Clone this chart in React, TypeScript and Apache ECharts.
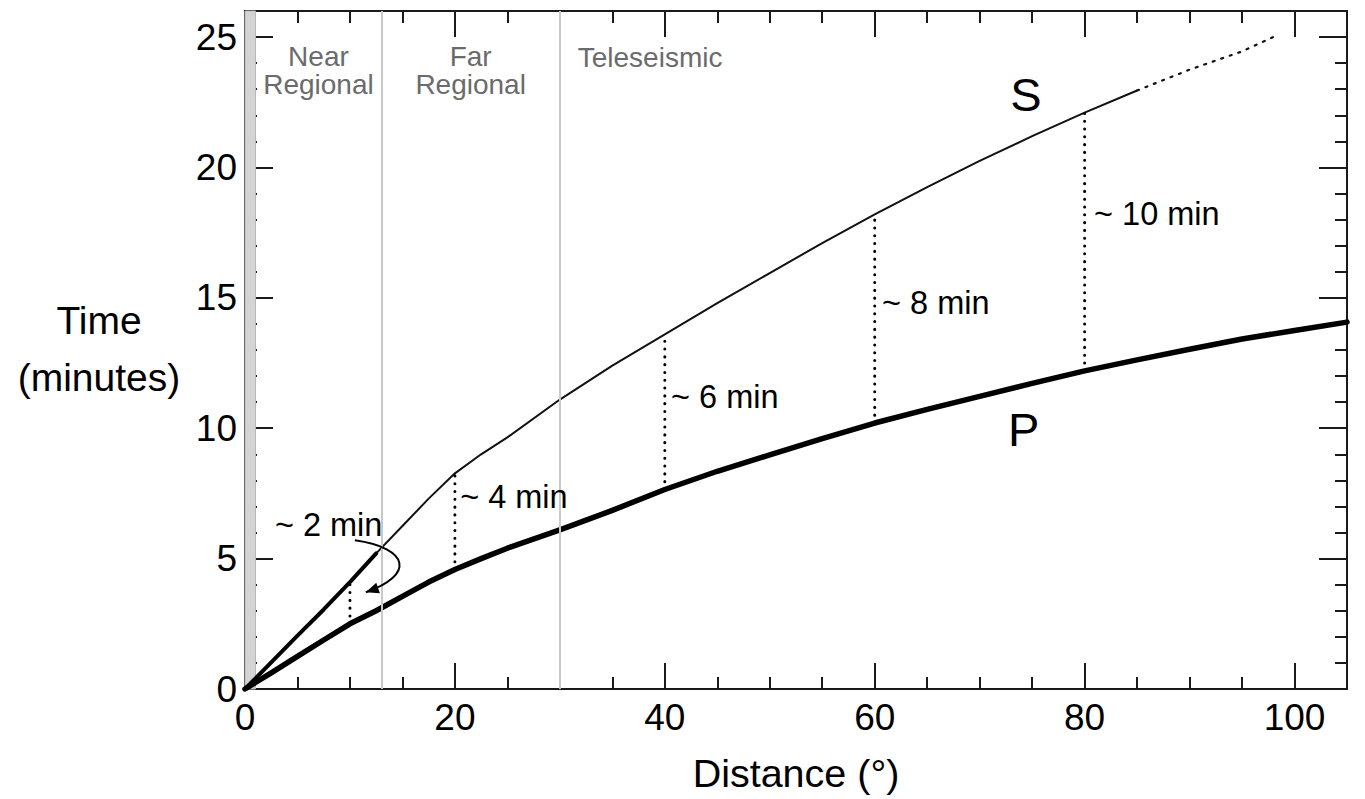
import React, { useEffect, useRef } from 'react';
import * as echarts from 'echarts';

// ---- Data ----
const xMax = 105;
const yMax = 26;

// P-wave travel time (minutes) vs distance (degrees)
const pDist = [0, 1, 2.5, 5, 7.5, 10, 12.5, 15, 17.5, 20, 22.5, 25, 30, 35, 40, 45, 50, 55, 60, 65, 70, 75, 80, 85, 90, 95, 100, 105];
const pTime = [0, 0.25, 0.62, 1.25, 1.88, 2.5, 3.0, 3.55, 4.1, 4.58, 5.0, 5.4, 6.1, 6.85, 7.65, 8.35, 8.98, 9.6, 10.2, 10.72, 11.22, 11.72, 12.2, 12.62, 13.03, 13.42, 13.75, 14.07];

// S-wave travel time (minutes) vs distance (degrees)
const sDist = [0, 2.5, 5, 7.5, 10, 12.5, 15, 17.5, 20, 22.5, 25, 30, 35, 40, 45, 50, 55, 60, 65, 70, 75, 80, 85, 90, 95, 98.5];
const sTime = [0, 1.02, 2.05, 3.05, 4.1, 5.2, 6.25, 7.3, 8.27, 9.0, 9.65, 11.1, 12.4, 13.6, 14.8, 15.95, 17.1, 18.2, 19.25, 20.25, 21.2, 22.1, 22.95, 23.75, 24.45, 25.1];
const sDenseUntil = 85; // beyond this the S picks become sparse
const sThickUntil = 12.5; // near source both branches are dense

// S-P gaps
const gapDist = [10, 20, 40, 60, 80];
const gapLabels = ['~ 2 min', '~ 4 min', '~ 6 min', '~ 8 min', '~ 10 min'];
const gapLabelX = [2.85, 20.5, 40.6, 60.7, 80.9];
const gapLabelY = [6.3, 7.35, 11.2, 14.8, 18.2];

// Distance regions
const bandRange = [0, 1];
const regionEdges = [13, 30];
const regionLabels = ['Near\nRegional', 'Far\nRegional', 'Teleseismic'];
const regionLabelX = [7, 21.5, 38.6];
const regionLabelY = [23.7, 23.7, 24.23];

// Phase labels
const phaseLabels = ['S', 'P'];
const phaseLabelX = [74.4, 74.2];
const phaseLabelY = [22.8, 9.95];

// Curved arrow for the "~ 2 min" label (start, control 1, control 2, end), in data units
const arrowX = [10.47, 15.7, 16.18, 11.51];
const arrowY = [5.7, 5.4, 4.36, 3.71];

const FONT = '"Liberation Sans", Arial, Helvetica, sans-serif';

export default function App() {
  const ref = useRef<HTMLDivElement>(null);

  useEffect(() => {
    const chart = echarts.init(ref.current as HTMLDivElement, undefined, { renderer: 'svg' });

    const pData = pDist.map((d, i) => [d, pTime[i]]);
    const sData = sDist.map((d, i) => [d, sTime[i]]);
    const sDense = sData.filter((p) => p[0] <= sDenseUntil);
    const sTail = sData.filter((p) => p[0] >= sDenseUntil);
    const sNear = sData.filter((p) => p[0] <= sThickUntil);
    const pAt = (d: number) => pTime[pDist.indexOf(d)];
    const sAt = (d: number) => sTime[sDist.indexOf(d)];

    const tickStyle = { color: '#1a1a1a', width: 2 };
    const mkX = (position: string, interval: number, len: number, extra: any = {}) => ({
      type: 'value',
      min: 0,
      max: xMax,
      interval,
      position,
      axisLine: { show: false, onZero: false },
      splitLine: { show: false },
      axisTick: { show: true, inside: true, length: len, lineStyle: tickStyle },
      axisLabel: { show: false },
      ...extra,
    });
    const mkY = (position: string, interval: number, len: number, extra: any = {}) => ({
      type: 'value',
      min: 0,
      max: yMax,
      interval,
      position,
      axisLine: { show: false, onZero: false },
      splitLine: { show: false },
      axisTick: { show: true, inside: true, length: len, lineStyle: tickStyle },
      axisLabel: { show: false },
      ...extra,
    });

    const gapSeries = gapDist.map((d) => ({
      type: 'line',
      z: 4,
      silent: true,
      symbol: 'none',
      data: [
        [d, pAt(d)],
        [d, sAt(d)],
      ],
      lineStyle: { color: '#000', width: 3, type: [0.1, 7.7], cap: 'round' },
    }));

    chart.setOption({
      animation: false,
      backgroundColor: '#fff',
      grid: {
        left: 245,
        right: 18,
        top: 11,
        bottom: 110,
        show: true,
        borderColor: '#1a1a1a',
        borderWidth: 2,
        backgroundColor: 'transparent',
        containLabel: false,
      },
      xAxis: [
        mkX('bottom', 5, 12, {
          axisLabel: {
            show: true,
            margin: 10,
            fontSize: 37,
            color: '#000',
            fontFamily: FONT,
            showMaxLabel: false,
            formatter: (v: number) => (v % 20 === 0 && v <= 100 ? String(v) : ''),
          },
          name: 'Distance (°)',
          nameLocation: 'middle',
          nameGap: 64,
          nameTextStyle: { fontSize: 39.5, color: '#000', fontFamily: FONT },
        }),
        mkX('bottom', 20, 26),
        mkX('top', 5, 12),
        mkX('top', 20, 26),
      ],
      yAxis: [
        mkY('left', 1, 12, {
          axisLabel: {
            show: true,
            margin: 8,
            fontSize: 37,
            color: '#000',
            fontFamily: FONT,
            showMaxLabel: false,
            formatter: (v: number) => (v % 5 === 0 && v <= 25 ? String(v) : ''),
          },
        }),
        mkY('left', 5, 28),
        mkY('right', 1, 12),
        mkY('right', 5, 28),
      ],
      series: [
        {
          type: 'line',
          z: 1,
          silent: true,
          symbol: 'none',
          data: [],
          markArea: {
            silent: true,
            itemStyle: { color: '#d4d4d4', borderColor: '#b8b8b8', borderWidth: 1 },
            data: [[{ xAxis: bandRange[0] }, { xAxis: bandRange[1] }]],
          },
          markLine: {
            silent: true,
            symbol: ['none', 'none'],
            label: { show: false },
            lineStyle: { color: '#c9c9c9', width: 2, type: 'solid' },
            data: regionEdges.map((x) => ({ xAxis: x })),
          },
        },
        {
          name: 'P',
          type: 'line',
          z: 3,
          symbol: 'none',
          data: pData,
          lineStyle: { color: '#000', width: 5.5, cap: 'round', join: 'round' },
        },
        {
          name: 'S',
          type: 'line',
          z: 3,
          symbol: 'none',
          data: sDense,
          lineStyle: { color: '#111', width: 2, join: 'round' },
        },
        {
          name: 'S near',
          type: 'line',
          z: 3,
          symbol: 'none',
          data: sNear,
          lineStyle: { color: '#000', width: 4, cap: 'round', join: 'round' },
        },
        {
          name: 'S tail',
          type: 'line',
          z: 3,
          symbol: 'none',
          data: sTail,
          lineStyle: { color: '#111', width: 2.2, type: [2, 7], cap: 'round' },
        },
        ...gapSeries,
      ],
    });

    const toPx = (x: number, y: number) =>
      chart.convertToPixel({ xAxisIndex: 0, yAxisIndex: 0 }, [x, y]) as number[];

    const graphics: any[] = [];
    // Y axis title
    graphics.push({
      type: 'text',
      silent: true,
      style: {
        text: 'Time\n(minutes)',
        x: 99,
        y: 349,
        textAlign: 'center',
        textVerticalAlign: 'middle',
        fontSize: 39,
        fontFamily: FONT,
        lineHeight: 57,
        fill: '#000',
      },
    });
    // Region labels
    regionLabels.forEach((t, i) => {
      const [x, y] = toPx(regionLabelX[i], regionLabelY[i]);
      graphics.push({
        type: 'text',
        silent: true,
        z: 10,
        style: {
          text: t,
          x,
          y,
          textAlign: 'center',
          textVerticalAlign: 'middle',
          fontSize: 28,
          lineHeight: 28,
          fontFamily: FONT,
          fill: '#6b6b6b',
        },
      });
    });
    // Gap labels
    gapLabels.forEach((t, i) => {
      const [x, y] = toPx(gapLabelX[i], gapLabelY[i]);
      graphics.push({
        type: 'text',
        silent: true,
        z: 10,
        style: {
          text: t,
          x,
          y,
          textAlign: 'left',
          textVerticalAlign: 'middle',
          fontSize: 32.5,
          fontFamily: FONT,
          fill: '#000',
        },
      });
    });
    // Phase labels
    phaseLabels.forEach((t, i) => {
      const [x, y] = toPx(phaseLabelX[i], phaseLabelY[i]);
      graphics.push({
        type: 'text',
        silent: true,
        z: 10,
        style: {
          text: t,
          x,
          y,
          textAlign: 'center',
          textVerticalAlign: 'middle',
          fontSize: 47,
          fontFamily: FONT,
          fill: '#000',
        },
      });
    });
    // Curved arrow
    const a = arrowX.map((x, i) => toPx(x, arrowY[i]));
    graphics.push({
      type: 'bezierCurve',
      silent: true,
      z: 10,
      shape: {
        x1: a[0][0],
        y1: a[0][1],
        cpx1: a[1][0],
        cpy1: a[1][1],
        cpx2: a[2][0],
        cpy2: a[2][1],
        x2: a[3][0],
        y2: a[3][1],
      },
      style: { stroke: '#000', lineWidth: 2, fill: null },
    });
    {
      const tip = a[3];
      let dx = a[3][0] - a[2][0];
      let dy = a[3][1] - a[2][1];
      const len = Math.hypot(dx, dy) || 1;
      dx /= len;
      dy /= len;
      const L = 13;
      const W = 5.5;
      const bx = tip[0] - dx * L;
      const by = tip[1] - dy * L;
      graphics.push({
        type: 'polygon',
        silent: true,
        z: 10,
        shape: {
          points: [
            [tip[0], tip[1]],
            [bx - dy * W, by + dx * W],
            [bx + dy * W, by - dx * W],
          ],
        },
        style: { fill: '#000' },
      });
    }
    chart.setOption({ graphic: graphics });

    return () => {
      chart.dispose();
    };
  }, []);

  return (
    <div
      ref={ref}
      style={{ position: 'fixed', left: 0, top: 0, width: 1365, height: 799, background: '#fff' }}
    />
  );
}
